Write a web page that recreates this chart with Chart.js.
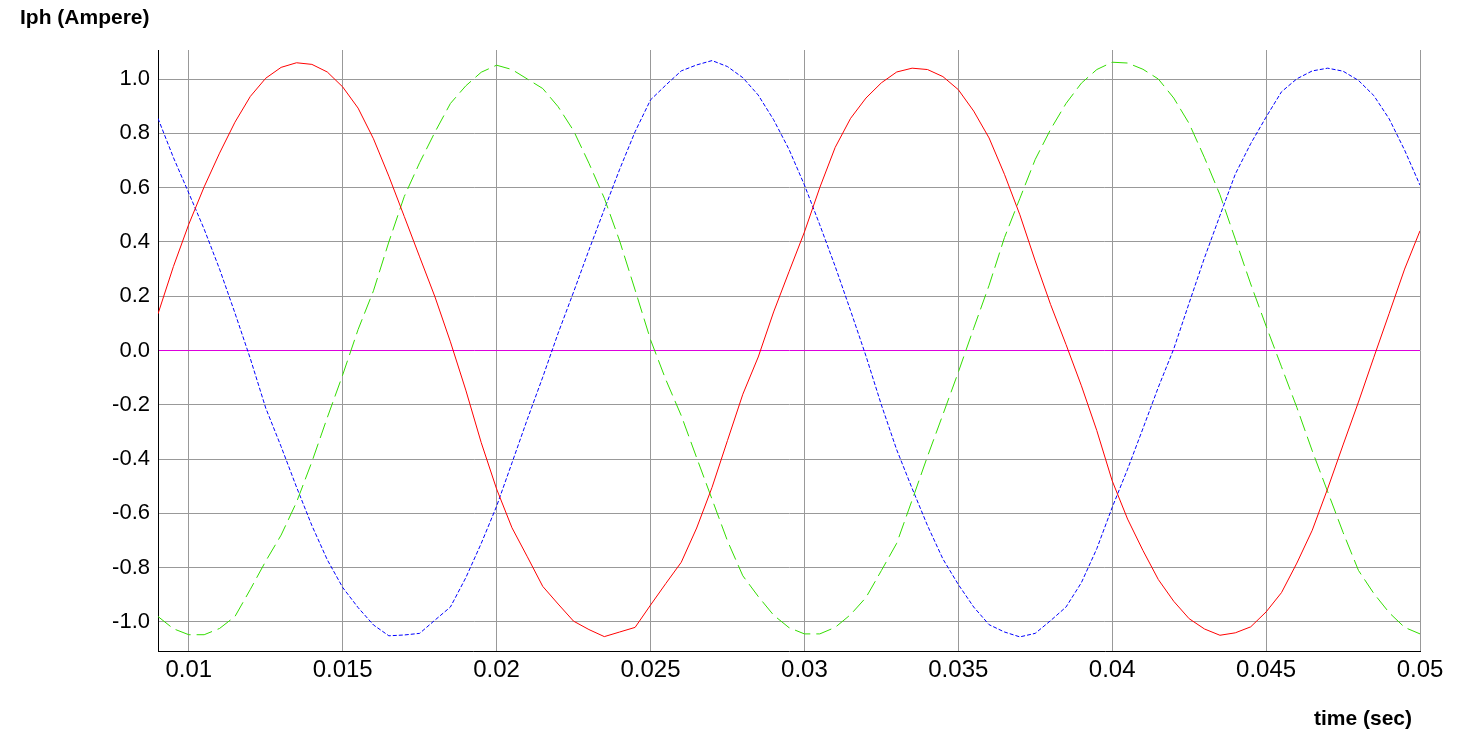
<!DOCTYPE html>
<html lang="en">
<head>
  <meta charset="UTF-8">
  <title>Iph (Ampere)</title>
  <script src="https://cdn.jsdelivr.net/npm/chart.js"></script>
  <style>
    html, body { margin: 0; padding: 0; background: #fff; overflow: hidden; }
    #wrap { position: relative; width: 1469px; height: 744px; }
    canvas { display: block; }
  </style>
</head>
<body>
<div id="wrap">
  <canvas id="iphChart" width="1469" height="744"></canvas>
</div>

<script>
  // sample times (s) and phase currents (A)
  const timeSec = [
    0.009, 0.0095, 0.010, 0.0105, 0.011, 0.0115, 0.012, 0.0125, 0.013, 0.0135,
    0.014, 0.0145, 0.015, 0.0155, 0.016, 0.0165, 0.017, 0.0175, 0.018, 0.0185,
    0.019, 0.0195, 0.020, 0.0205, 0.021, 0.0215, 0.022, 0.0225, 0.023, 0.0235,
    0.024, 0.0245, 0.025, 0.0255, 0.026, 0.0265, 0.027, 0.0275, 0.028, 0.0285,
    0.029, 0.0295, 0.030, 0.0305, 0.031, 0.0315, 0.032, 0.0325, 0.033, 0.0335,
    0.034, 0.0345, 0.035, 0.0355, 0.036, 0.0365, 0.037, 0.0375, 0.038, 0.0385,
    0.039, 0.0395, 0.040, 0.0405, 0.041, 0.0415, 0.042, 0.0425, 0.043, 0.0435,
    0.044, 0.0445, 0.045, 0.0455, 0.046, 0.0465, 0.047, 0.0475, 0.048, 0.0485,
    0.049, 0.0495, 0.050
  ];
  const iphRed = [
    0.135, 0.309, 0.465, 0.603, 0.727, 0.841, 0.936, 1.003, 1.043, 1.060,
    1.054, 1.026, 0.971, 0.893, 0.780, 0.642, 0.494, 0.345, 0.197, 0.032,
    -0.146, -0.339, -0.510, -0.653, -0.760, -0.869, -0.934, -0.997, -1.028, -1.054,
    -1.037, -1.020, -0.938, -0.858, -0.780, -0.654, -0.504, -0.332, -0.161, -0.024,
    0.142, 0.290, 0.436, 0.600, 0.748, 0.855, 0.930, 0.986, 1.026, 1.040,
    1.035, 1.009, 0.961, 0.882, 0.783, 0.649, 0.500, 0.330, 0.169, 0.022,
    -0.130, -0.295, -0.480, -0.621, -0.737, -0.844, -0.924, -0.988, -1.026, -1.049,
    -1.040, -1.018, -0.963, -0.892, -0.783, -0.662, -0.509, -0.348, -0.190, -0.025,
    0.137, 0.300, 0.441
  ];
  const iphGreen = [
    -0.980, -1.025, -1.047, -1.047, -1.024, -0.980, -0.880, -0.776, -0.680, -0.559,
    -0.410, -0.247, -0.090, 0.077, 0.220, 0.400, 0.567, 0.692, 0.805, 0.910,
    0.975, 1.025, 1.051, 1.035, 1.000, 0.965, 0.898, 0.810, 0.690, 0.561,
    0.403, 0.223, 0.040, -0.108, -0.240, -0.395, -0.548, -0.701, -0.830, -0.906,
    -0.975, -1.021, -1.044, -1.044, -1.020, -0.973, -0.910, -0.811, -0.710, -0.551,
    -0.390, -0.236, -0.080, 0.082, 0.240, 0.416, 0.560, 0.704, 0.815, 0.910,
    0.985, 1.035, 1.062, 1.059, 1.036, 1.000, 0.930, 0.836, 0.710, 0.574,
    0.410, 0.245, 0.090, -0.060, -0.210, -0.370, -0.520, -0.670, -0.810, -0.895,
    -0.966, -1.020, -1.044
  ];
  const iphBlue = [
    0.855, 0.711, 0.580, 0.447, 0.300, 0.138, -0.030, -0.212, -0.354, -0.503,
    -0.645, -0.771, -0.873, -0.947, -1.011, -1.051, -1.048, -1.042, -0.993, -0.945,
    -0.837, -0.711, -0.574, -0.414, -0.253, -0.098, 0.064, 0.215, 0.370, 0.520,
    0.668, 0.806, 0.923, 0.978, 1.030, 1.052, 1.068, 1.046, 1.005, 0.941,
    0.850, 0.741, 0.610, 0.463, 0.310, 0.147, -0.020, -0.200, -0.366, -0.508,
    -0.645, -0.768, -0.862, -0.945, -1.010, -1.037, -1.055, -1.042, -0.995, -0.945,
    -0.855, -0.730, -0.578, -0.437, -0.287, -0.135, 0.006, 0.175, 0.342, 0.497,
    0.650, 0.762, 0.860, 0.953, 1.001, 1.030, 1.040, 1.029, 0.995, 0.939,
    0.853, 0.738, 0.609
  ];

  const xTicks = [0.01, 0.015, 0.02, 0.025, 0.03, 0.035, 0.04, 0.045, 0.05];
  const xTickLabels = ['0.01', '0.015', '0.02', '0.025', '0.03', '0.035', '0.04', '0.045', '0.05'];
  const yTicks = [-1.0, -0.8, -0.6, -0.4, -0.2, 0.0, 0.2, 0.4, 0.6, 0.8, 1.0];
  const yTickLabels = ['-1.0', '-0.8', '-0.6', '-0.4', '-0.2', '0.0', '0.2', '0.4', '0.6', '0.8', '1.0'];

  const FONT = "Arial, 'Liberation Sans', sans-serif";

  const toPoints = vals => vals.map((v, i) => ({ x: timeSec[i], y: v }));

  // axis captions drawn straight onto the canvas
  const captions = {
    id: 'captions',
    afterDraw(chart) {
      const c = chart.ctx;
      c.save();
      c.fillStyle = '#000';
      c.font = 'bold 21px ' + FONT;
      c.textBaseline = 'alphabetic';
      c.textAlign = 'left';
      c.fillText('Iph (Ampere)', 20, 24);
      c.textAlign = 'right';
      c.fillText('time (sec)', 1412, 725);
      c.restore();
    }
  };

  new Chart(document.getElementById('iphChart'), {
    type: 'line',
    data: {
      datasets: [
        {
          data: toPoints(iphRed),
          borderColor: '#ff0000',
          borderWidth: 1,
          pointRadius: 0,
          tension: 0
        },
        {
          data: toPoints(iphGreen),
          borderColor: '#33dd00',
          borderWidth: 1,
          borderDash: [16, 6],
          pointRadius: 0,
          tension: 0
        },
        {
          data: toPoints(iphBlue),
          borderColor: '#0000ff',
          borderWidth: 1,
          borderDash: [4, 2],
          pointRadius: 0,
          tension: 0
        }
      ]
    },
    options: {
      responsive: false,
      devicePixelRatio: 1,
      animation: false,
      layout: { padding: { top: 50, right: 49, bottom: 0, left: 0 } },
      plugins: { legend: { display: false }, tooltip: { enabled: false } },
      scales: {
        x: {
          type: 'linear',
          min: 0.009,
          max: 0.05,
          afterBuildTicks: s => { s.ticks = xTicks.map(v => ({ value: v })); },
          afterFit: s => { s.height = 93; },
          ticks: {
            callback: (v, i) => xTickLabels[i],
            font: { family: FONT, size: 24 },
            color: '#000',
            padding: 5,
            maxRotation: 0,
            autoSkip: false
          },
          grid: { color: '#999999', lineWidth: 1, drawTicks: false },
          border: { color: '#000', width: 1 }
        },
        y: {
          min: -1.107,
          max: 1.107,
          afterBuildTicks: s => { s.ticks = yTicks.map(v => ({ value: v })); },
          afterFit: s => { s.width = 158; },
          ticks: {
            callback: (v, i) => yTickLabels[i],
            font: { family: FONT, size: 22 },
            color: '#000',
            padding: 8,
            autoSkip: false
          },
          grid: {
            color: ctx => (ctx.tick && ctx.tick.value === 0) ? '#dd00dd' : '#999999',
            lineWidth: 1,
            drawTicks: false
          },
          border: { color: '#000', width: 1 }
        }
      }
    },
    plugins: [captions]
  });
</script>
</body>
</html>
